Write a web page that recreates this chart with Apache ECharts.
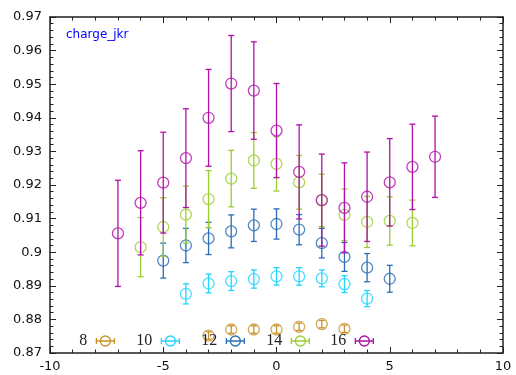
<!DOCTYPE html>
<html>
<head>
<meta charset="utf-8">
<script src="https://cdn.jsdelivr.net/npm/echarts@6/dist/echarts.min.js"></script>
<style>html,body{margin:0;padding:0;background:#fff}#c{width:516px;height:375px}</style>
</head>
<body>
<div id="c"></div>
<script>
// ---- data ----
const names = ['8', '10', '12', '14', '16'];
const colors = ['#c8922a', '#22d4ff', '#2a6db5', '#9acd32', '#b010a8'];

const x8 = [-3, -2, -1, 0, 1, 2, 3];
const y8 = [0.8752, 0.8770, 0.8770, 0.8770, 0.8778, 0.8786, 0.8772];
const e8 = [0.0011, 0.0011, 0.0011, 0.0011, 0.0011, 0.0011, 0.0011];

const x10 = [-4, -3, -2, -1, 0, 1, 2, 3, 4];
const y10 = [0.8876, 0.8907, 0.8914, 0.8920, 0.8928, 0.8928, 0.8922, 0.8905, 0.8862];
const e10 = [0.0030, 0.0028, 0.0028, 0.0027, 0.0026, 0.0026, 0.0025, 0.0025, 0.0024];

const x12 = [-5, -4, -3, -2, -1, 0, 1, 2, 3, 4, 5];
const y12 = [0.8975, 0.9020, 0.9041, 0.9062, 0.9080, 0.9084, 0.9067, 0.9027, 0.8986, 0.8954, 0.8921];
const e12 = [0.0052, 0.0051, 0.0048, 0.0049, 0.0048, 0.0045, 0.0045, 0.0044, 0.0043, 0.0042, 0.0040];

const x14 = [-6, -5, -4, -3, -2, -1, 0, 1, 2, 3, 4, 5, 6];
const y14 = [0.9015, 0.9075, 0.9112, 0.9158, 0.9219, 0.9273, 0.9263, 0.9208, 0.9154, 0.9111, 0.9090, 0.9093, 0.9087];
const e14 = [0.0088, 0.0087, 0.0085, 0.0085, 0.0084, 0.0083, 0.0081, 0.0080, 0.0078, 0.0077, 0.0076, 0.0072, 0.0068];

const x16 = [-7, -6, -5, -4, -3, -2, -1, 0, 1, 2, 3, 4, 5, 6, 7];
const y16 = [0.9056, 0.9147, 0.9207, 0.9280, 0.9400, 0.9502, 0.9481, 0.9362, 0.9239, 0.9155, 0.9132, 0.9165, 0.9208, 0.9254, 0.9284];
const e16 = [0.0158, 0.0155, 0.0150, 0.0147, 0.0144, 0.0143, 0.0145, 0.0140, 0.0140, 0.0137, 0.0134, 0.0133, 0.0130, 0.0127, 0.0121];

const xTicks = [-10, -5, 0, 5, 10];
const yTicks = [0.87, 0.88, 0.89, 0.9, 0.91, 0.92, 0.93, 0.94, 0.95, 0.96, 0.97];
const titleText = 'charge_jkr';

// ---- build ----
const sets = [[x8, y8, e8], [x10, y10, e10], [x12, y12, e12], [x14, y14, e14], [x16, y16, e16]];
const legendRight = [401, 336, 271, 206, 142];
const ICON = 'path://M0,5L18,5M0,2L0,8M18,2L18,8M14,5A5,5,0,1,1,4,5A5,5,0,1,1,14,5';

const series = [];
sets.forEach(function (s, i) {
  const xs = s[0], ys = s[1], es = s[2];
  series.push({
    name: names[i],
    type: 'custom',
    xAxisIndex: 0, yAxisIndex: 0,
    encode: { x: 0, y: [1, 2] },
    data: xs.map(function (x, k) { return [x, ys[k] - es[k], ys[k] + es[k]]; }),
    renderItem: function (params, api) {
      const x = api.value(0);
      const top = api.coord([x, api.value(2)]);
      const bot = api.coord([x, api.value(1)]);
      const w = 3;
      const st = { stroke: colors[i], lineWidth: 1.3 };
      return {
        type: 'group',
        children: [
          { type: 'line', shape: { x1: top[0], y1: top[1], x2: bot[0], y2: bot[1] }, style: st },
          { type: 'line', shape: { x1: top[0] - w, y1: top[1], x2: top[0] + w, y2: top[1] }, style: st },
          { type: 'line', shape: { x1: bot[0] - w, y1: bot[1], x2: bot[0] + w, y2: bot[1] }, style: st }
        ]
      };
    },
    z: 2 + i * 2,
    silent: true
  });
  series.push({
    name: names[i],
    type: 'scatter',
    xAxisIndex: 0, yAxisIndex: 0,
    symbol: 'circle',
    symbolSize: 11,
    itemStyle: { color: 'rgba(0,0,0,0)', borderColor: colors[i], borderWidth: 1.3 },
    data: xs.map(function (x, k) { return [x, ys[k]]; }),
    z: 3 + i * 2,
    silent: true
  });
});

const legends = names.map(function (n, i) {
  return {
    data: [{ name: n, icon: ICON, itemStyle: { color: 'rgba(0,0,0,0)', borderColor: colors[i], borderWidth: 1.3 } }],
    orient: 'horizontal',
    right: legendRight[i],
    top: 333,
    padding: 0,
    align: 'right',
    itemWidth: 18,
    itemHeight: 10,
    selectedMode: false,
    textStyle: { fontFamily: 'Liberation Serif', fontSize: 16, color: '#222', padding: [0, 4, 0, 0] }
  };
});

const axisLine = { show: true, onZero: false, lineStyle: { color: '#222', width: 1.5 } };
const tickStyle = { color: '#222', width: 1 };
const labelFont = { fontFamily: 'DejaVu Sans', fontSize: 13, color: '#111' };

const option = {
  animation: false,
  backgroundColor: '#fff',
  title: {
    text: titleText,
    left: 61, top: 24,
    textStyle: { color: '#0000ff', fontFamily: 'DejaVu Sans', fontSize: 12, fontWeight: 'normal' }
  },
  legend: legends,
  grid: { left: 50, right: 13, top: 17, bottom: 22, containLabel: false },
  xAxis: [
    {
      type: 'value', min: xTicks[0], max: xTicks[xTicks.length - 1], interval: 5,
      axisLine: axisLine,
      axisTick: { show: true, inside: true, length: 6, lineStyle: tickStyle },
      minorTick: { show: true, splitNumber: 5, length: 3.5, lineStyle: tickStyle },
      splitLine: { show: false },
      axisLabel: Object.assign({ margin: 7 }, labelFont)
    },
    {
      type: 'value', position: 'top', min: xTicks[0], max: xTicks[xTicks.length - 1], interval: 5,
      axisLine: axisLine,
      axisTick: { show: true, inside: true, length: 6, lineStyle: tickStyle },
      minorTick: { show: true, splitNumber: 5, length: 3.5, lineStyle: tickStyle },
      splitLine: { show: false },
      axisLabel: { show: false }
    }
  ],
  yAxis: [
    {
      type: 'value', position: 'left', min: yTicks[0], max: yTicks[yTicks.length - 1], interval: 0.01,
      axisLine: axisLine,
      axisTick: { show: true, inside: true, length: 6, lineStyle: tickStyle },
      minorTick: { show: true, splitNumber: 5, length: 3.5, lineStyle: tickStyle },
      splitLine: { show: false },
      axisLabel: Object.assign({ margin: 8 }, labelFont)
    },
    {
      type: 'value', position: 'right', min: yTicks[0], max: yTicks[yTicks.length - 1], interval: 0.01,
      axisLine: axisLine,
      axisTick: { show: true, inside: true, length: 6, lineStyle: tickStyle },
      minorTick: { show: true, splitNumber: 5, length: 3.5, lineStyle: tickStyle },
      splitLine: { show: false },
      axisLabel: { show: false }
    }
  ],
  series: series
};

const chart = echarts.init(document.getElementById('c'), null, { renderer: 'canvas' });
chart.setOption(option);
</script>
</body>
</html>
